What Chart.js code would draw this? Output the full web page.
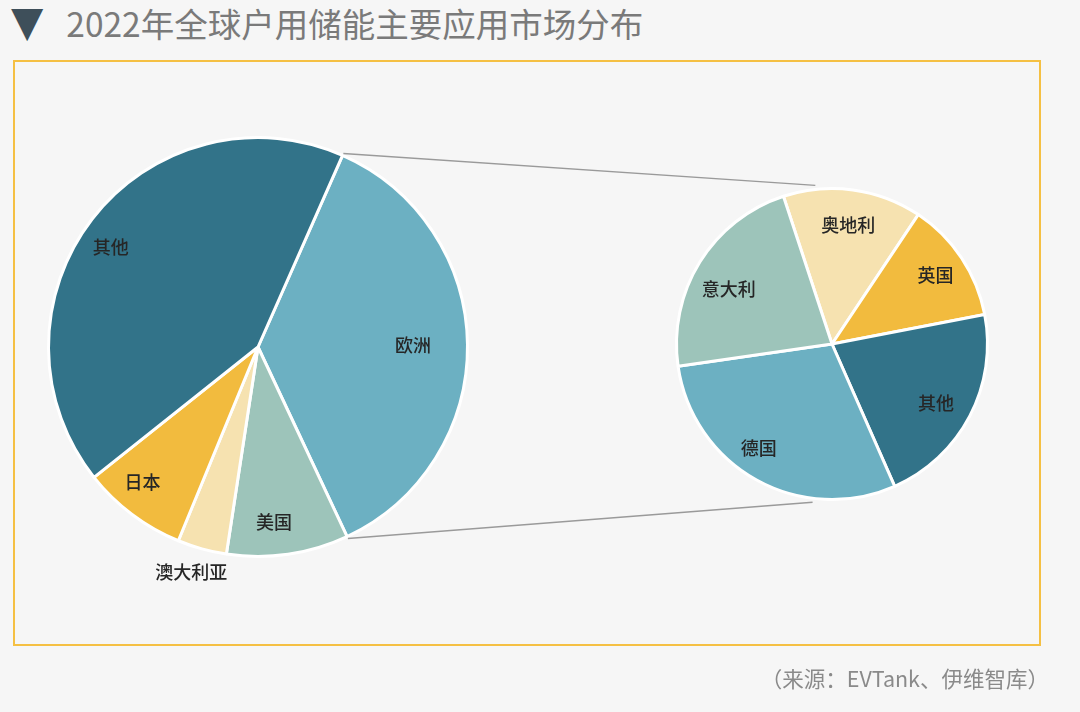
<!DOCTYPE html>
<html><head><meta charset="utf-8">
<script src="https://cdn.jsdelivr.net/npm/chart.js@4"></script>
<style>
html,body{margin:0;padding:0;background:#f6f6f6;}
#page{position:relative;width:1080px;height:712px;overflow:hidden;background:#f6f6f6;font-family:"Noto Sans CJK SC","Noto Sans",sans-serif;}
#title{position:absolute;left:11px;top:0px;font-size:33.5px;color:#7a7a7a;white-space:nowrap;line-height:46px;}
#title .tri{color:#3e4f5a;font-size:42px;margin-right:23px;font-family:"DejaVu Sans",sans-serif;vertical-align:top;line-height:44px;}
#box{position:absolute;left:13px;top:60px;width:1028px;height:586px;box-sizing:border-box;border:2.5px solid #f5c043;}
#src{position:absolute;right:31px;top:663px;font-size:21.5px;line-height:30px;color:#8a8a8a;white-space:nowrap;}
canvas{position:absolute;}
</style></head>
<body><div id="page">
<div id="title"><span class="tri">▼</span>2022年全球户用储能主要应用市场分布</div>
<div id="box"></div>
<canvas id="mainPie" width="502" height="502" style="left:7px;top:96px"></canvas>
<canvas id="subPie" width="354" height="354" style="left:655px;top:167px"></canvas>
<canvas id="links" width="1080" height="712" style="left:0;top:0;pointer-events:none"></canvas>
<div id="src">（来源：EVTank、伊维智库）</div>
</div>
<script>
// ---- data ----
const mainLabels = ['欧洲', '美国', '澳大利亚', '日本', '其他'];
const mainValues = [36.4, 9.4, 3.8, 8.1, 42.3];
const subLabels = ['奥地利', '英国', '其他', '德国', '意大利'];
const subValues = [14.4, 12.6, 21.4, 29.3, 22.2];

// ---- style ----
const C_DARK = '#327389', C_BLUE = '#6cb0c2', C_SAGE = '#9dc4ba', C_CREAM = '#f6e2b0', C_GOLD = '#f2bb3e';
const mainColors = [C_BLUE, C_SAGE, C_CREAM, C_GOLD, C_DARK];
const subColors = [C_CREAM, C_GOLD, C_DARK, C_BLUE, C_SAGE];
const mainLabelRadii = [0.74, 0.84, 1.12, 0.85, 0.85];
const mainLabelShift = [0, 3, 1, 3.5, -3.5];
const subLabelRadii = [0.77, 0.80, 0.77, 0.82, 0.75];
const subLabelShift = [0, 0, 2, 6, -4];

const sliceLabels = {
  id: 'sliceLabels',
  afterDatasetsDraw(chart, args, opts) {
    const ctx = chart.ctx;
    const meta = chart.getDatasetMeta(0);
    ctx.save();
    ctx.font = '500 18px "Noto Sans CJK SC"';
    ctx.fillStyle = '#262626';
    ctx.textAlign = 'center';
    ctx.textBaseline = 'middle';
    meta.data.forEach((arc, i) => {
      const p = arc.getProps(['x', 'y', 'startAngle', 'endAngle', 'outerRadius'], true);
      const mid = (p.startAngle + p.endAngle) / 2 + opts.shift[i] * Math.PI / 180;
      const r = p.outerRadius * opts.radii[i];
      ctx.fillText(chart.data.labels[i], p.x + Math.cos(mid) * r, p.y + Math.sin(mid) * r);
    });
    ctx.restore();
  }
};

function pieConfig(labels, values, colors, rotation, radii, shift, pad) {
  return {
    type: 'pie',
    data: { labels: labels, datasets: [{ data: values, backgroundColor: colors, borderColor: '#ffffff', borderWidth: 3 }] },
    options: {
      responsive: false, animation: false, devicePixelRatio: 1, rotation: rotation,
      layout: { padding: pad },
      plugins: { legend: { display: false }, tooltip: { enabled: false }, sliceLabels: { radii: radii, shift: shift } }
    },
    plugins: [sliceLabels]
  };
}

const mainChart = new Chart(document.getElementById('mainPie'), pieConfig(mainLabels, mainValues, mainColors, 23.8, mainLabelRadii, mainLabelShift, 40));
const subChart = new Chart(document.getElementById('subPie'), pieConfig(subLabels, subValues, subColors, -18.2, subLabelRadii, subLabelShift, 20));

// ---- connector lines from the 欧洲 slice to the breakdown pie ----
function drawLinks() {
  const lc = document.getElementById('links').getContext('2d');
  lc.clearRect(0, 0, 1080, 712);
  const mainCv = document.getElementById('mainPie'), subCv = document.getElementById('subPie');
  const mo = { x: mainCv.offsetLeft, y: mainCv.offsetTop }, so = { x: subCv.offsetLeft, y: subCv.offsetTop };
  const a = mainChart.getDatasetMeta(0).data[0].getProps(['x', 'y', 'startAngle', 'endAngle', 'outerRadius'], true);
  const b = subChart.getDatasetMeta(0).data[0].getProps(['x', 'y', 'outerRadius'], true);
  const ra = a.outerRadius + 2, rb = b.outerRadius + 4;
  const topB = -96 * Math.PI / 180, botB = 97 * Math.PI / 180;
  lc.strokeStyle = '#9a9a9a';
  lc.lineWidth = 1.4;
  lc.beginPath();
  lc.moveTo(mo.x + a.x + Math.cos(a.startAngle) * ra, mo.y + a.y + Math.sin(a.startAngle) * ra);
  lc.lineTo(so.x + b.x + Math.cos(topB) * rb, so.y + b.y + Math.sin(topB) * rb);
  lc.moveTo(mo.x + a.x + Math.cos(a.endAngle) * ra, mo.y + a.y + Math.sin(a.endAngle) * ra);
  lc.lineTo(so.x + b.x + Math.cos(botB) * rb, so.y + b.y + Math.sin(botB) * rb);
  lc.stroke();
}
drawLinks();
</script>
</body></html>
